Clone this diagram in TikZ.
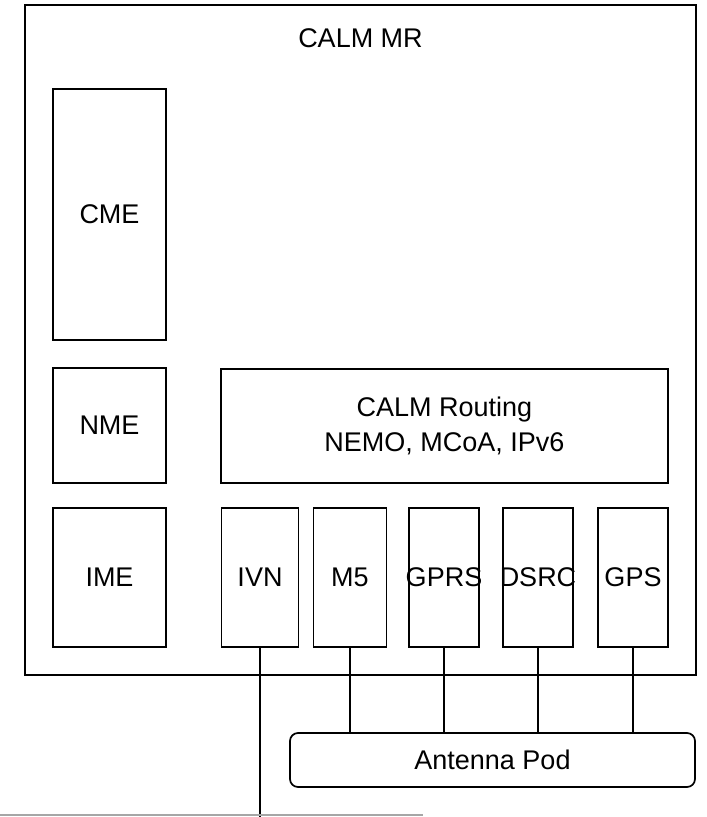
\documentclass[tikz,border=0pt]{standalone}
\usepackage{fontspec}
\setmainfont{Liberation Sans}
\usetikzlibrary{positioning}

\begin{document}
\begin{tikzpicture}[x=1pt, y=-1pt,
    txt/.style={font=\fontsize{27}{35}\selectfont, align=center, inner sep=0pt},
    frame/.style={rectangle, draw=black, line width=1.7pt, inner sep=0pt},
    mgmt/.style={frame, minimum width=113pt, txt},
    radio/.style={frame, minimum width=#1, minimum height=139pt},
    pod/.style={frame, rounded corners=8pt, minimum width=405pt, minimum height=54pt, txt},
    link/.style={draw=black, line width=1.8pt}
]
    \useasboundingbox (0,0) rectangle (707,817);

    % Router box
    \node[frame, minimum width=671pt, minimum height=670pt] (mr) at (360.5,340) {};
    \node[txt] (title) at (360.5,38) {CALM MR};

    % Management entities
    \node[mgmt, minimum height=251pt] (cme) at (109.5,214.5) {CME};
    \node[mgmt, minimum height=115pt] (nme) at (109.5,425.5) {NME};
    \node[mgmt, minimum height=139pt] (ime) at (109.5,577.5) {IME};

    % Routing layer
    \node[frame, txt, minimum width=447pt, minimum height=114pt] (routing) at (444.5,426) {CALM Routing\\NEMO, MCoA, IPv6};

    % Communication interfaces
    \node[radio=77pt, label={[txt]center:IVN}] (ivn) at (260,577.5) {};
    \node[radio=73pt, label={[txt]center:M5}] (mfive) at (350,577.5) {};
    \node[radio=70pt, label={[txt]center:GPRS}] (gprs) at (444,577.5) {};
    \node[radio=70pt, label={[txt]center:DSRC}] (dsrc) at (538,577.5) {};
    \node[radio=70pt, label={[txt]center:GPS}] (gps) at (633,577.5) {};

    \node[pod] (antenna) at (492.5,760) {Antenna Pod};

    % Connections
    \coordinate (bus) at (260,817);
    \draw[link] (ivn) -- (bus);
    \draw[link] (mfive) -- (mfive |- antenna.north);
    \draw[link] (gprs) -- (gprs |- antenna.north);
    \draw[link] (dsrc) -- (dsrc |- antenna.north);
    \draw[link] (gps) -- (gps |- antenna.north);

    % Cut-off bus line
    \coordinate (busleft) at (0,815);
    \coordinate (busright) at (423,815);
    \draw[black!35, line width=1.5pt] (busleft) -- (busright);
\end{tikzpicture}
\end{document}
